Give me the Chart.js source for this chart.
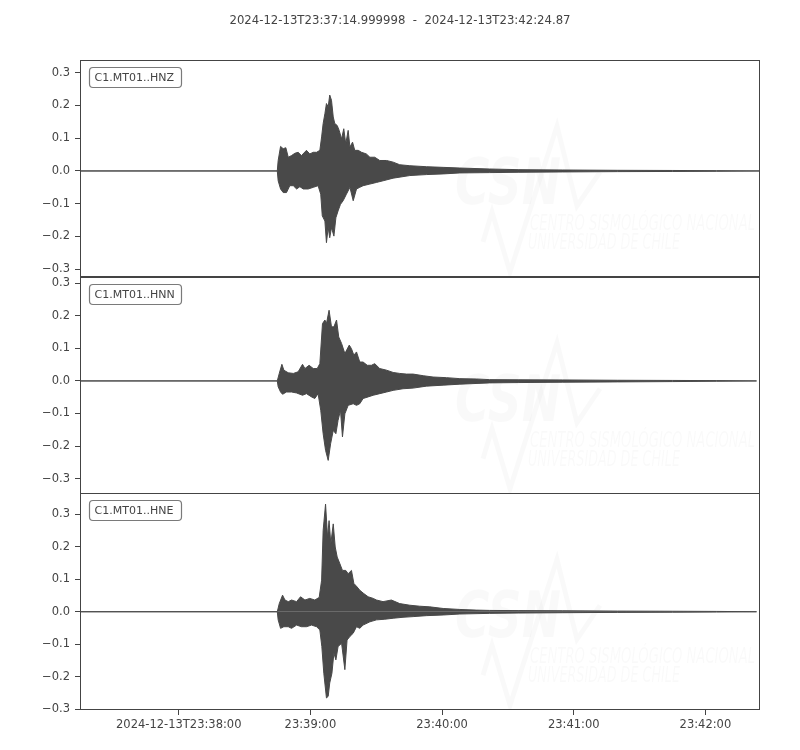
<!DOCTYPE html>
<html>
<head>
<meta charset="utf-8">
<script src="https://cdn.jsdelivr.net/npm/chart.js@4.4.1/dist/chart.umd.min.js"></script>
<style>
  html, body { margin: 0; padding: 0; background: #ffffff; }
  #wrap { position: relative; width: 800px; height: 750px; }
  #wrap canvas { position: absolute; left: 0; top: 0; }
</style>
</head>
<body>
<div id="wrap">
  <canvas id="c1" width="800" height="750"></canvas>
  <canvas id="c2" width="800" height="750"></canvas>
  <canvas id="c3" width="800" height="750"></canvas>
</div>
<script>
// ---------------- data (seconds after 2024-12-13T23:37:14.999998) ----------------
const titleText = '2024-12-13T23:37:14.999998  -  2024-12-13T23:42:24.87';
const channels = ['C1.MT01..HNZ', 'C1.MT01..HNN', 'C1.MT01..HNE'];
const xTickSeconds = [45.000002, 105.000002, 165.000002, 225.000002, 285.000002];
const xTickLabels = ['2024-12-13T23:38:00', '23:39:00', '23:40:00', '23:41:00', '23:42:00'];
const yTicks = [-0.3, -0.2, -0.1, 0, 0.1, 0.2, 0.3];
const xRange = [0, 309.87];
const yRanges = [[-0.323, 0.339], [-0.345, 0.32], [-0.302, 0.364]];

// HNZ envelope (upper / lower peaks)
const hnzUpT = [0, 89.9, 90.3, 91.4, 92.6, 93.8, 94.9, 96.4, 97.9, 99.4, 100.9, 103.2, 104.7, 106.3, 107.8, 109.3, 110.1, 110.8, 111.6, 112.3, 113.1, 113.8, 114.6, 115.4, 116.1, 117.2, 118.1, 119.2, 120.2, 121.1, 122.2, 123.0, 124.2, 125.2, 126.8, 128.3, 130.5, 132.1, 134.3, 136.6, 139.7, 142.7, 145.7, 150.3, 157.9, 165.5, 173.1, 186.7, 200, 220, 245, 270, 290, 309.87];
const hnzUpV = [0, 0, 0.032, 0.075, 0.068, 0.071, 0.042, 0.047, 0.054, 0.057, 0.047, 0.063, 0.052, 0.057, 0.057, 0.063, 0.104, 0.145, 0.175, 0.206, 0.196, 0.232, 0.216, 0.165, 0.145, 0.139, 0.124, 0.098, 0.129, 0.083, 0.124, 0.073, 0.088, 0.063, 0.063, 0.057, 0.052, 0.042, 0.042, 0.032, 0.032, 0.027, 0.019, 0.016, 0.013, 0.011, 0.009, 0.006, 0.004, 0.003, 0.002, 0.0015, 0.001, 0];
const hnzLoT = [0, 89.9, 90.3, 91.4, 92.6, 94.1, 95.6, 97.2, 98.7, 100.2, 101.7, 104.0, 106.3, 108.5, 109.7, 110.4, 111.6, 112.3, 113.1, 113.8, 114.6, 115.7, 116.6, 117.6, 118.7, 119.9, 121.4, 123.0, 124.5, 126.0, 127.5, 129.0, 132.1, 135.1, 138.1, 142.7, 150.3, 157.9, 165.5, 173.1, 186.7, 200, 220, 245, 270, 290, 309.87];
const hnzLoV = [0, 0, -0.030, -0.055, -0.066, -0.066, -0.045, -0.045, -0.055, -0.048, -0.055, -0.055, -0.050, -0.045, -0.071, -0.137, -0.153, -0.219, -0.173, -0.204, -0.173, -0.199, -0.143, -0.122, -0.102, -0.091, -0.071, -0.050, -0.091, -0.055, -0.050, -0.045, -0.040, -0.035, -0.030, -0.022, -0.014, -0.011, -0.009, -0.006, -0.005, -0.004, -0.003, -0.002, -0.0015, -0.001, 0];

// HNN envelope
const hnnUpT = [0, 89.9, 90.8, 92.0, 92.9, 94.9, 97.2, 99.4, 101.4, 102.5, 104.4, 106.3, 108.1, 109.3, 110.5, 111.6, 112.3, 113.5, 114.6, 115.7, 116.9, 117.9, 119.2, 120.7, 122.7, 123.7, 124.8, 126.0, 127.5, 129.0, 130.9, 132.8, 134.3, 136.6, 139.7, 142.7, 145.7, 148.8, 151.8, 156.4, 160.9, 167.0, 173.1, 180.6, 186.7, 200, 220, 245, 270, 290, 308.3];
const hnnUpV = [0, 0, 0.023, 0.051, 0.033, 0.025, 0.023, 0.028, 0.051, 0.038, 0.048, 0.038, 0.038, 0.053, 0.176, 0.187, 0.176, 0.217, 0.166, 0.166, 0.187, 0.135, 0.115, 0.084, 0.110, 0.099, 0.079, 0.089, 0.058, 0.058, 0.048, 0.048, 0.053, 0.038, 0.033, 0.026, 0.023, 0.021, 0.021, 0.016, 0.012, 0.010, 0.007, 0.006, 0.004, 0.0035, 0.003, 0.002, 0.0015, 0.001, 0];
const hnnLoT = [0, 89.9, 90.3, 91.4, 92.3, 94.1, 96.4, 98.7, 101.4, 103.2, 105.5, 107.0, 108.5, 109.7, 110.8, 111.9, 113.1, 114.2, 115.4, 116.6, 117.6, 118.7, 119.6, 120.7, 122.2, 124.5, 126.0, 127.5, 129.0, 131.3, 133.6, 136.6, 139.7, 142.7, 147.2, 151.8, 157.9, 165.5, 173.1, 186.7, 200, 220, 245, 270, 290, 308.3];
const hnnLoV = [0, 0, -0.018, -0.034, -0.041, -0.034, -0.034, -0.037, -0.044, -0.039, -0.049, -0.054, -0.039, -0.090, -0.162, -0.213, -0.244, -0.193, -0.152, -0.162, -0.121, -0.090, -0.172, -0.101, -0.075, -0.070, -0.075, -0.070, -0.054, -0.049, -0.044, -0.039, -0.034, -0.029, -0.024, -0.022, -0.016, -0.013, -0.010, -0.006, -0.005, -0.004, -0.003, -0.002, -0.001, 0];

// HNE envelope
const hneUpT = [0, 89.9, 90.8, 92.3, 93.4, 94.9, 96.4, 98.7, 100.5, 102.5, 104.7, 107.0, 109.0, 110.1, 110.8, 111.9, 112.8, 113.5, 114.3, 115.4, 116.3, 117.2, 118.4, 119.6, 121.1, 122.2, 123.7, 124.8, 126.3, 127.5, 129.3, 131.3, 133.6, 135.1, 138.1, 141.9, 145.7, 150.3, 154.8, 159.4, 165.5, 173.1, 180.6, 186.7, 200, 220, 245, 270, 290, 308.3];
const hneUpV = [0, 0, 0.025, 0.051, 0.036, 0.031, 0.036, 0.031, 0.046, 0.036, 0.041, 0.036, 0.044, 0.097, 0.250, 0.331, 0.229, 0.280, 0.209, 0.270, 0.199, 0.168, 0.148, 0.127, 0.127, 0.117, 0.127, 0.087, 0.076, 0.066, 0.056, 0.046, 0.041, 0.036, 0.031, 0.036, 0.025, 0.020, 0.017, 0.015, 0.010, 0.007, 0.005, 0.004, 0.0035, 0.003, 0.002, 0.0015, 0.001, 0];
const hneLoT = [0, 89.9, 90.3, 91.4, 92.9, 94.9, 96.4, 98.7, 100.9, 103.2, 105.5, 107.8, 109.3, 110.2, 111.1, 112.3, 113.1, 113.8, 114.8, 115.7, 116.6, 117.6, 119.2, 120.7, 121.7, 123.0, 124.5, 126.0, 127.5, 129.0, 132.1, 135.1, 138.9, 142.7, 147.2, 151.8, 157.9, 165.5, 173.1, 186.7, 200, 220, 245, 270, 290, 308.3];
const hneLoV = [0, 0, -0.025, -0.051, -0.046, -0.046, -0.051, -0.041, -0.046, -0.046, -0.041, -0.046, -0.056, -0.107, -0.189, -0.265, -0.260, -0.219, -0.189, -0.127, -0.148, -0.107, -0.097, -0.178, -0.087, -0.076, -0.066, -0.046, -0.051, -0.041, -0.031, -0.025, -0.023, -0.020, -0.017, -0.015, -0.012, -0.010, -0.007, -0.005, -0.004, -0.003, -0.002, -0.0015, -0.001, 0];

// ---------------- styling ----------------
const TRACE = '#494949';
const INK = '#444444';
const FONT = "'DejaVu Sans', 'Liberation Sans', sans-serif";

const framePlugin = {
  id: 'frame',
  beforeDatasetsDraw(chart) {
    // faint watermark
    const ctx = chart.ctx, a = chart.chartArea, t = a.top;
    ctx.save();
    ctx.beginPath(); ctx.rect(a.left, a.top, a.right - a.left, a.bottom - a.top); ctx.clip();
    ctx.fillStyle = 'rgba(0,0,0,0.022)';
    ctx.strokeStyle = 'rgba(0,0,0,0.022)';
    ctx.font = "italic bold 64px 'DejaVu Sans'";
    ctx.textBaseline = 'alphabetic';
    const csnW = ctx.measureText('CSN').width;
    ctx.save(); ctx.translate(455, t + 144); ctx.scale(106 / csnW, 1); ctx.fillText('CSN', 0, 0); ctx.restore();
    ctx.lineWidth = 5; ctx.lineJoin = 'miter';
    ctx.beginPath();
    ctx.moveTo(483, t + 182); ctx.lineTo(492, t + 152); ctx.lineTo(510, t + 212);
    ctx.lineTo(557, t + 66); ctx.lineTo(577, t + 146); ctx.lineTo(600, t + 112);
    ctx.stroke();
    ctx.font = "italic 22px 'DejaVu Sans'";
    const l1 = 'CENTRO SISMOLÓGICO NACIONAL', l2 = 'UNIVERSIDAD DE CHILE';
    const w1 = ctx.measureText(l1).width, w2 = ctx.measureText(l2).width;
    ctx.save(); ctx.translate(530, t + 170); ctx.scale(225 / w1, 1); ctx.fillText(l1, 0, 0); ctx.restore();
    ctx.save(); ctx.translate(528, t + 189); ctx.scale(152 / w2, 1); ctx.fillText(l2, 0, 0); ctx.restore();
    ctx.restore();
  },
  afterDatasetsDraw(chart, args, opts) {
    const ctx = chart.ctx, a = chart.chartArea;
    ctx.save();
    ctx.strokeStyle = INK; ctx.lineWidth = 1;
    ctx.strokeRect(Math.round(a.left) + 0.5, Math.round(a.top) + 0.5,
                   Math.round(a.right - a.left) - 1, Math.round(a.bottom - a.top) - 1);
    // channel label box
    const bx = Math.round(a.left) + 9.5, by = Math.round(a.top) + 7.5, bw = 92, bh = 20;
    ctx.beginPath();
    ctx.roundRect(bx, by, bw, bh, 3.5);
    ctx.fillStyle = '#ffffff'; ctx.fill();
    ctx.strokeStyle = '#7a7a7a'; ctx.lineWidth = 1.2; ctx.stroke();
    ctx.fillStyle = INK;
    ctx.font = "11px " + FONT;
    ctx.textBaseline = 'middle'; ctx.textAlign = 'left';
    ctx.fillText(opts.label, bx + 5, by + bh / 2 + 0.5);
    // figure title (centred on the full figure width)
    if (opts.title) {
      ctx.font = "11.7px " + FONT;
      ctx.textAlign = 'center';
      ctx.fillText(opts.title, chart.width / 2, 20.5);
    }
    ctx.restore();
  }
};

function pts(ts, vs) { return ts.map((t, i) => ({ x: t, y: vs[i] })); }

function makePanel(canvasId, idx, upT, upV, loT, loV, padTop, padBottom, showX, showTitle) {
  const ds = (data) => ({
    data, borderColor: TRACE, backgroundColor: TRACE, borderWidth: 1,
    pointRadius: 0, tension: 0, fill: 'origin'
  });
  return new Chart(document.getElementById(canvasId), {
    type: 'line',
    data: { datasets: [ds(pts(upT, upV)), ds(pts(loT, loV))] },
    plugins: [framePlugin],
    options: {
      responsive: false,
      animation: false,
      events: [],
      layout: { padding: { top: padTop, bottom: padBottom, left: 0, right: 40 } },
      plugins: {
        legend: { display: false },
        tooltip: { enabled: false },
        frame: { label: channels[idx], title: showTitle ? titleText : '' }
      },
      scales: {
        x: {
          type: 'linear', min: xRange[0], max: xRange[1], display: showX,
          afterBuildTicks: s => { s.ticks = xTickSeconds.map(v => ({ value: v })); },
          afterFit: s => { s.height = showX ? 40 : 0; },
          ticks: {
            autoSkip: false, maxRotation: 0, padding: 3, color: INK,
            font: { family: FONT, size: 11.5 },
            callback: v => { const i = xTickSeconds.indexOf(v); return i >= 0 ? xTickLabels[i] : ''; }
          },
          grid: { drawOnChartArea: false, drawTicks: true, tickLength: 5, color: INK },
          border: { display: false }
        },
        y: {
          min: yRanges[idx][0], max: yRanges[idx][1],
          afterBuildTicks: s => { s.ticks = yTicks.map(v => ({ value: v })); },
          afterFit: s => { s.width = 80; },
          ticks: {
            padding: 5, color: INK, font: { family: FONT, size: 11.5 },
            callback: v => (v < -1e-9 ? '\u2212' : '') + Math.abs(v).toFixed(1)
          },
          grid: { drawOnChartArea: false, drawTicks: true, tickLength: 5, color: INK },
          border: { display: false }
        }
      }
    }
  });
}

makePanel('c1', 0, hnzUpT, hnzUpV, hnzLoT, hnzLoV, 60, 750 - 276.7, false, true);
makePanel('c2', 1, hnnUpT, hnnUpV, hnnLoT, hnnLoV, 276.7, 750 - 493.3, false, false);
makePanel('c3', 2, hneUpT, hneUpV, hneLoT, hneLoV, 493.3, 0, true, false);
</script>
</body>
</html>
